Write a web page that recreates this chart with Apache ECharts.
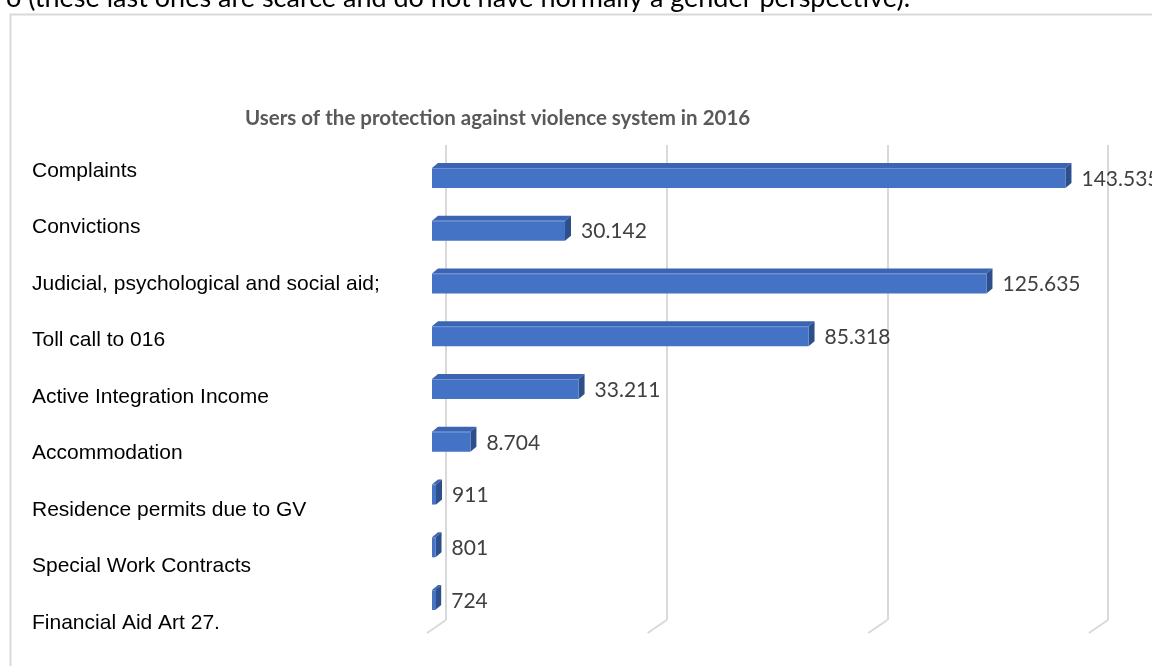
<!DOCTYPE html>
<html>
<head>
<meta charset="utf-8">
<script src="https://cdn.jsdelivr.net/npm/echarts@6/dist/echarts.min.js"></script>
<style>
  html, body { margin: 0; padding: 0; background: #fff; }
  #chart { width: 1152px; height: 666px; }
</style>
</head>
<body>
<div id="chart"></div>
<script>
// Users of the protection against violence system, 2016
const categories = [
  'Complaints',
  'Convictions',
  'Judicial, psychological and social aid;',
  'Toll call to 016',
  'Active Integration Income',
  'Accommodation',
  'Residence permits due to GV',
  'Special Work Contracts',
  'Financial Aid Art 27.'
];
const users = [143535, 30142, 125635, 85318, 33211, 8704, 911, 801, 724];
const axisTicks = [0, 50000, 100000, 150000];

const FRONT = '#4472c4';
const TOP = '#3b65b2';
const SIDE = '#2d4f8c';
const GRID_COLOR = '#d9d9d9';

// Spanish-style thousands separator: 143535 -> "143.535"
function fmt(v) {
  return String(v).replace(/\B(?=(\d{3})+(?!\d))/g, '.');
}

const chart = echarts.init(document.getElementById('chart'), null, { renderer: 'canvas' });

const option = {
  animation: false,
  backgroundColor: '#fff',
  title: {
    text: 'Users of the protection against violence system in 2016',
    left: 240,
    top: 103,
    textStyle: { fontFamily: 'Lato', fontWeight: 'bold', fontSize: 20.5, color: '#595959' }
  },
  graphic: [
    {
      type: 'text',
      right: 1152 - 910,
      top: -15,
      style: {
        text: 'o (these last ones are scarce and do not have normally a gender perspective).',
        font: '27px Lato',
        fill: '#000'
      }
    },
    {
      type: 'rect',
      left: 8,
      top: 12,
      shape: { width: 1300, height: 800 },
      style: { fill: 'none', stroke: GRID_COLOR, lineWidth: 2 }
    }
  ],
  grid: [
    // back wall with gridlines
    { left: 446, right: 44, top: 145, bottom: 46 },
    // bars (front plane)
    { left: 432, right: 58, top: 151.6, bottom: 39.6 },
    // category labels
    { left: 420, right: 0, top: 142.75, bottom: 14.75 }
  ],
  xAxis: [
    {
      gridIndex: 0, type: 'value', min: 0, max: 150000, interval: 50000,
      axisLine: { show: false }, axisTick: { show: false }, axisLabel: { show: false },
      splitLine: { show: true, lineStyle: { color: GRID_COLOR, width: 2 } }
    },
    {
      gridIndex: 1, type: 'value', min: 0, max: 150000, interval: 50000,
      axisLine: { show: false }, axisTick: { show: false }, axisLabel: { show: false },
      splitLine: { show: false }
    },
    {
      gridIndex: 2, type: 'value', min: 0, max: 1, show: false
    }
  ],
  yAxis: [
    { gridIndex: 0, type: 'value', min: 0, max: 1, show: false },
    {
      gridIndex: 1, type: 'category', data: categories, inverse: true, show: false
    },
    {
      gridIndex: 2, type: 'category', data: categories, inverse: true,
      axisLine: { show: false }, axisTick: { show: false },
      axisLabel: {
        align: 'left', margin: 388, fontFamily: 'Liberation Sans', fontSize: 21, color: '#000'
      }
    }
  ],
  series: [
    {
      // floor edges of the gridlines
      type: 'custom',
      xAxisIndex: 0, yAxisIndex: 0,
      silent: true,
      z: 1,
      data: axisTicks.map(t => [t, 0]),
      renderItem: function (params, api) {
        const p = api.coord([api.value(0), 0]);
        return {
          type: 'line',
          shape: { x1: p[0], y1: p[1], x2: p[0] - 19, y2: p[1] + 13 },
          style: { stroke: GRID_COLOR, lineWidth: 2 }
        };
      }
    },
    {
      type: 'custom',
      name: 'Users',
      xAxisIndex: 1, yAxisIndex: 1,
      z: 5,
      data: users.map((v, i) => [v, i]),
      encode: { x: 0, y: 1 },
      renderItem: function (params, api) {
        const v = api.value(0);
        const idx = api.value(1);
        const p0 = api.coord([0, idx]);
        const p1 = api.coord([v, idx]);
        const h = 20, dx = 6, dy = 5;
        const x0 = p0[0], x1 = p1[0], yc = p0[1];
        const yt = yc - h / 2, yb = yc + h / 2;
        return {
          type: 'group',
          children: [
            { type: 'polygon', shape: { points: [[x0, yt], [x0 + dx, yt - dy], [x1 + dx, yt - dy], [x1, yt]] }, style: { fill: TOP } },
            { type: 'polygon', shape: { points: [[x1, yt], [x1 + dx, yt - dy], [x1 + dx, yb - dy], [x1, yb]] }, style: { fill: SIDE } },
            { type: 'rect', shape: { x: x0, y: yt, width: Math.max(x1 - x0, 0.5), height: h }, style: { fill: FRONT } },
            { type: 'line', shape: { x1: x0, y1: yt + 0.5, x2: x1, y2: yt + 0.5 }, style: { stroke: '#6f93d6', lineWidth: 1 } },
            {
              type: 'text', x: x1 + 16, y: yc + 1,
              style: { text: fmt(v), fill: '#404040', font: '21px Lato', verticalAlign: 'middle', align: 'left' }
            }
          ]
        };
      }
    }
  ]
};

chart.setOption(option);
</script>
</body>
</html>
